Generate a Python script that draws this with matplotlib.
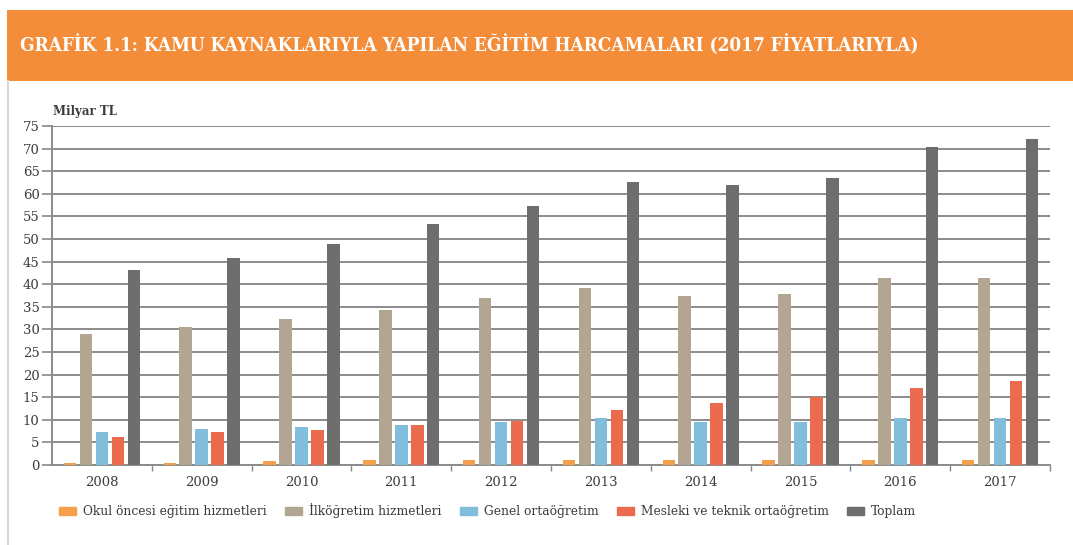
import matplotlib
matplotlib.use("Agg")
import matplotlib.pyplot as plt
from matplotlib.patches import Rectangle
from matplotlib.lines import Line2D
import numpy as np

years = ["2008", "2009", "2010", "2011", "2012", "2013", "2014", "2015", "2016", "2017"]
okul_oncesi = [0.5, 0.5, 0.8, 1.2, 1.2, 1.2, 1.2, 1.2, 1.2, 1.2]
ilkogretim = [29.0, 30.5, 32.2, 34.3, 37.0, 39.1, 37.5, 37.9, 41.3, 41.3]
genel_orta = [7.2, 7.9, 8.3, 8.9, 9.5, 10.5, 9.6, 9.6, 10.4, 10.5]
mesleki = [6.3, 7.2, 7.8, 8.9, 9.8, 12.1, 13.8, 15.0, 17.1, 18.6]
toplam = [43.1, 45.7, 48.9, 53.4, 57.3, 62.6, 61.9, 63.6, 70.3, 72.1]

series_names = ["Okul öncesi eğitim hizmetleri", "İlköğretim hizmetleri",
                "Genel ortaöğretim", "Mesleki ve teknik ortaöğretim", "Toplam"]
series = [okul_oncesi, ilkogretim, genel_orta, mesleki, toplam]
colors = ["#F7A04B", "#B2A592", "#80BEDC", "#EB6B4F", "#6E6E6E"]

title = "GRAFİK 1.1: KAMU KAYNAKLARIYLA YAPILAN EĞİTİM HARCAMALARI (2017 FİYATLARIYLA)"
unit_label = "Milyar TL"

W, H = 1073, 545
fig = plt.figure(figsize=(W / 100, H / 100), dpi=100)
fig.patch.set_facecolor("white")

FONT = "DejaVu Serif"
TXT = "#3C3C3C"

# header band
fig.patches.append(Rectangle((7 / W, 1 - 81 / H), 1 - 7 / W, 71 / H,
                             transform=fig.transFigure, facecolor="#F48D3A",
                             edgecolor="none", zorder=0))
fig.lines.append(Line2D([8 / W, 8 / W], [0, 1 - 81 / H], transform=fig.transFigure,
                        color="#D8D8D8", lw=1.5))
fig.text(20 / W, 1 - 45 / H, title, color="white", fontsize=13.6,
         fontweight="bold", family=FONT, va="center", ha="left",
         fontstretch="condensed")

ax = fig.add_axes([52 / W, 80 / H, (1050 - 52) / W, (465 - 126) / H])
x = np.arange(len(years))
step = 0.16
width = 0.125
for i, (vals, c) in enumerate(zip(series, colors)):
    ax.bar(x + (i - 2) * step, vals, width=width, color=c, zorder=3, label=series_names[i])

ax.set_xlim(-0.5, len(years) - 0.5)
ax.set_ylim(0, 75)
ax.set_yticks(np.arange(0, 76, 5))
ax.set_xticks(x)
ax.set_xticklabels(years)
ax.set_xticks(np.arange(0.5, len(years), 1), minor=True)
ax.tick_params(axis="x", which="major", length=0, pad=8, labelsize=9.5, labelcolor=TXT)
ax.tick_params(axis="x", which="minor", length=4, color="#888888", width=1)
ax.tick_params(axis="y", length=7, color="#888888", width=1.2, labelsize=9.5,
               labelcolor=TXT, pad=2)
for lab in ax.get_xticklabels() + ax.get_yticklabels():
    lab.set_family(FONT)
ax.grid(axis="y", color="#8C8C8C", lw=1.4, zorder=0)
for s in ["top", "right"]:
    ax.spines[s].set_visible(False)
for s in ["left", "bottom"]:
    ax.spines[s].set_color("#8C8C8C")
    ax.spines[s].set_linewidth(1.4)

fig.text(53 / W, 1 - 111 / H, unit_label, family=FONT, fontsize=8.5,
         fontweight="bold", color=TXT, va="center", ha="left")

handles = [Rectangle((0, 0), 1, 1, color=c) for c in colors]
leg = fig.legend(handles, series_names, loc="center left",
                 bbox_to_anchor=(48 / W, 1 - 511 / H), ncol=5, frameon=False,
                 prop={"family": FONT, "size": 8.8}, handlelength=1.4,
                 handleheight=0.6, handletextpad=0.6, columnspacing=1.45)
for t in leg.get_texts():
    t.set_color(TXT)

fig.savefig("out.png", dpi=100)
